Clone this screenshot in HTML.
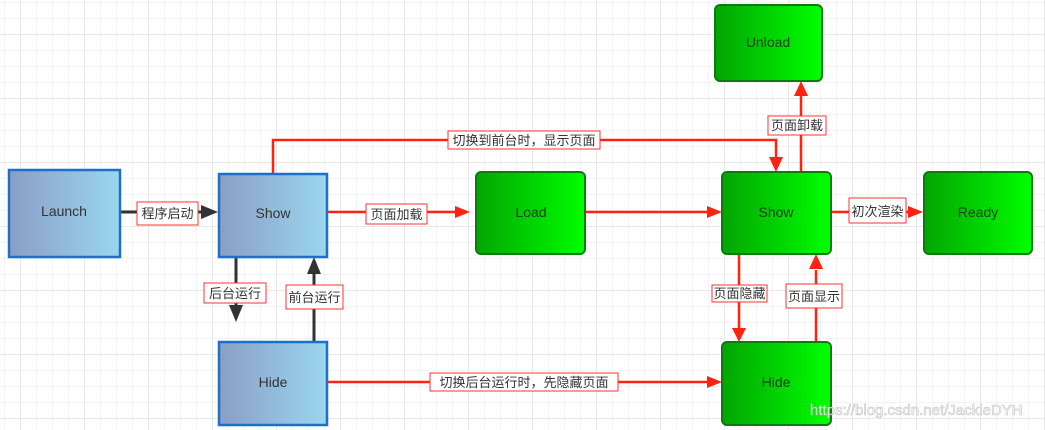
<!DOCTYPE html>
<html><head><meta charset="utf-8"><style>
html,body{margin:0;padding:0;background:#fff;}
svg{display:block;}
text{font-family:"Liberation Sans","Noto Sans CJK SC",sans-serif;}
</style></head><body>
<svg width="1045" height="430" xmlns="http://www.w3.org/2000/svg">
<defs>
<pattern id="g" x="4" y="2" width="16" height="16" patternUnits="userSpaceOnUse"><path d="M0 0H16M0 0V16" stroke="#ececec" stroke-width="1.2" fill="none"/></pattern>
<pattern id="G" x="20" y="34" width="64" height="64" patternUnits="userSpaceOnUse"><path d="M0 0H64M0 0V64" stroke="#e2e2e2" stroke-width="1.5" fill="none"/></pattern>
<linearGradient id="b" x1="0" x2="1"><stop offset="0" stop-color="#8a9ec6"/><stop offset="1" stop-color="#9bd6ee"/></linearGradient>
<linearGradient id="gr" x1="0" x2="1"><stop offset="0" stop-color="#02a502"/><stop offset="1" stop-color="#00ff00"/></linearGradient>
</defs>
<rect width="1045" height="430" fill="url(#g)"/>
<rect width="1045" height="430" fill="url(#G)"/>

<!-- connectors -->
<g stroke="#333" stroke-width="3" fill="none">
<line x1="120" y1="212" x2="205" y2="212"/>
<line x1="236" y1="257" x2="236" y2="310"/>
<line x1="314" y1="342" x2="314" y2="272"/>
</g>
<g fill="#333">
<polygon points="201,205 218,212 201,219"/>
<polygon points="229,305 236,322 243,305"/>
<polygon points="307,274 314,257 321,274"/>
</g>
<g stroke="#f21" stroke-width="2.5" fill="none">
<path d="M273 174V140H776V158"/>
<line x1="327" y1="212" x2="458" y2="212"/>
<line x1="586" y1="212" x2="708" y2="212"/>
<line x1="831" y1="212" x2="910" y2="212"/>
<line x1="801" y1="172" x2="801" y2="96"/>
<line x1="739" y1="254" x2="739" y2="328"/>
<line x1="816" y1="342" x2="816" y2="270"/>
<line x1="327" y1="382" x2="708" y2="382"/>
</g>
<g fill="#f21">
<polygon points="769,157 776,172 783,157"/>
<polygon points="455,206 470,212 455,218"/>
<polygon points="707,206 722,212 707,218"/>
<polygon points="908,206 923,212 908,218"/>
<polygon points="794,96 801,81 808,96"/>
<polygon points="732,328 739,342 746,328"/>
<polygon points="809,269 816,254 823,269"/>
<polygon points="707,376 722,382 707,388"/>
</g>

<!-- nodes blue -->
<g stroke="#1e6fc8" stroke-width="2.5" fill="url(#b)">
<rect x="9" y="170" width="111" height="87"/>
<rect x="219" y="174" width="108" height="83"/>
<rect x="219" y="342" width="108" height="83"/>
</g>
<g stroke="#0c7a0c" stroke-width="2" fill="url(#gr)">
<rect x="476" y="172" width="109" height="82" rx="5"/>
<rect x="722" y="172" width="109" height="82" rx="5"/>
<rect x="715" y="5" width="107" height="76" rx="5"/>
<rect x="924" y="172" width="108" height="82" rx="5"/>
<rect x="722" y="342" width="109" height="83" rx="5"/>
</g>
<g font-size="14" fill="#333" text-anchor="middle">
<text x="64" y="216">Launch</text>
<text x="273" y="218">Show</text>
<text x="273" y="387">Hide</text>
</g>
<g font-size="14" fill="#114411" text-anchor="middle">
<text x="531" y="217">Load</text>
<text x="776" y="217">Show</text>
<text x="768" y="47">Unload</text>
<text x="978" y="217">Ready</text>
<text x="776" y="387">Hide</text>
</g>

<!-- labels -->
<g stroke="#f33" stroke-width="1" fill="#fff">
<rect x="137" y="202" width="61" height="23"/>
<rect x="204" y="283" width="62" height="20"/>
<rect x="286" y="285" width="57" height="24"/>
<rect x="366" y="204" width="61" height="20"/>
<rect x="448" y="131" width="152" height="18"/>
<rect x="768" y="116" width="58" height="19"/>
<rect x="849" y="198" width="57" height="25"/>
<rect x="712" y="285" width="55" height="17"/>
<rect x="786" y="284" width="56" height="24"/>
<rect x="430" y="373" width="188" height="18"/>
</g>
<g font-size="13" fill="#333" text-anchor="middle">
<text x="167.5" y="218">程序启动</text>
<text x="235" y="298">后台运行</text>
<text x="314.5" y="302">前台运行</text>
<text x="396.5" y="219">页面加载</text>
<text x="524" y="145">切换到前台时，显示页面</text>
<text x="797" y="130">页面卸载</text>
<text x="877.5" y="216">初次渲染</text>
<text x="739.5" y="298">页面隐藏</text>
<text x="814" y="301">页面显示</text>
<text x="524" y="387">切换后台运行时，先隐藏页面</text>
</g>
<text x="810" y="415" font-size="15" fill="#fff" stroke="#bbb" stroke-width="0.6" opacity="0.9">https://blog.csdn.net/JackieDYH</text>
</svg>
</body></html>
